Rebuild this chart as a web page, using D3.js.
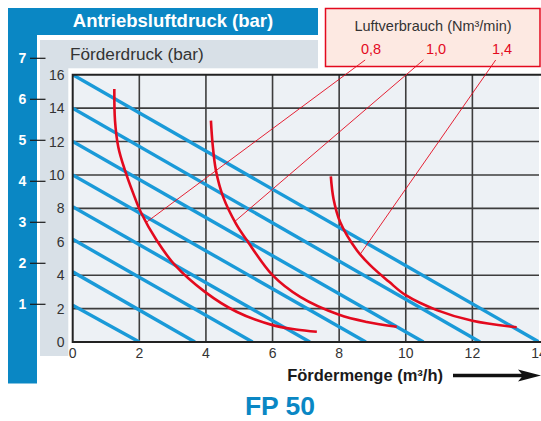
<!DOCTYPE html>
<html><head><meta charset="utf-8">
<script src="https://cdn.jsdelivr.net/npm/d3@7"></script>
<style>html,body{margin:0;padding:0;background:#fff;} svg{display:block;font-family:"Liberation Sans",Arial,sans-serif;}</style>
</head><body>
<script>
// ---- data ----
const xTicks = [0,2,4,6,8,10,12,14];
const yTicks = [0,2,4,6,8,10,12,14,16];
const airTicks = [1,2,3,4,5,6,7];
// blue pressure lines: [y at x=0, x at y=0]
const blueStarts = [2.2, 4.2, 6.15, 8.1, 10.0, 12.0, 14.0, 16.0];
const blueEnds   = [2.0, 3.67, 5.4, 7.12, 8.8, 10.53, 12.23, 14.0];
// air consumption curves
const curveLabels = ["0,8","1,0","1,4"];
const curve08 = [[1.25,15.15],[1.27,13.25],[1.37,11.66],[1.57,10.27],[1.82,8.88],[2.05,7.75],[2.52,6.09],[3.07,4.6],[3.97,3.0],[4.92,1.81],[6.0,1.01],[6.7,0.75],[7.33,0.61]];
const curve10 = [[4.15,13.25],[4.2,11.86],[4.3,10.27],[4.52,8.67],[4.9,7.09],[5.23,6.09],[6.0,4.0],[6.83,2.7],[8.0,1.63],[8.83,1.2],[9.73,0.91]];
const curve14 = [[7.75,9.91],[7.83,8.58],[8.03,7.18],[8.53,5.49],[8.93,4.6],[9.5,3.6],[10.0,2.8],[10.93,1.91],[12.0,1.27],[13.33,0.88]];
const curves = [curve08, curve10, curve14];
// leader lines: start (data coords above plot) -> end on curve
const leaderStarts = [[8.78,16.88],[10.53,16.88],[12.7,16.88]];
const leaderEnds = [[2.22,7.18],[4.87,7.22],[8.63,5.25]];

// ---- drawing ----
const W = 541, H = 421;
const svg = d3.select("body").append("svg").attr("width", W).attr("height", H);
const BLUE = "#0a87c4", LBLUE = "#1a9ad8", RED = "#e30a1e", GRAY = "#d8e0e7", DARK = "#333";

const x = d3.scaleLinear().domain([0,14]).range([72.7, 539]);
const y = d3.scaleLinear().domain([0,16]).range([342, 74.7]);
const yA = d3.scaleLinear().domain([0,7]).range([345.3, 58.3]);

// blue band + header
svg.append("rect").attr("x",8).attr("y",8).attr("width",29).attr("height",375.5).attr("fill",BLUE);
svg.append("rect").attr("x",8).attr("y",8).attr("width",310).attr("height",27).attr("fill",BLUE);
svg.append("text").attr("x",173).attr("y",26.5).attr("text-anchor","middle")
  .attr("fill","#fff").attr("font-weight","bold").attr("font-size",18.5).text("Antriebsluftdruck (bar)");

// gray panels
svg.append("rect").attr("x",40).attr("y",40).attr("width",278).attr("height",28.3).attr("fill",GRAY);
svg.append("rect").attr("x",40).attr("y",40).attr("width",28.3).attr("height",316).attr("fill",GRAY);
svg.append("text").attr("x",70).attr("y",60).attr("fill",DARK).attr("font-size",17.2).text("Förderdruck (bar)");

// legend box
svg.append("rect").attr("x",325.5).attr("y",8.5).attr("width",214.5).attr("height",58)
  .attr("fill","#fde9e2").attr("stroke",RED).attr("stroke-width",1.5);
svg.append("text").attr("x",433).attr("y",31).attr("text-anchor","middle").attr("fill",DARK)
  .attr("font-size",14.5).text("Luftverbrauch (Nm³/min)");
const labelX = [371, 436, 502];
curveLabels.forEach((l,i)=>{
  svg.append("text").attr("x",labelX[i]).attr("y",53.5).attr("text-anchor","middle")
    .attr("fill",RED).attr("font-size",14.5).text(l);
});

// plot background
svg.append("rect").attr("x",x(0)).attr("y",y(16)).attr("width",x(14)-x(0)).attr("height",y(0)-y(16)).attr("fill","#edf1f5");

// grid
const g = svg.append("g");
g.selectAll("line.v").data(xTicks.filter(d=>d>0&&d<14)).join("line")
  .attr("x1",d=>x(d)).attr("x2",d=>x(d)).attr("y1",y(16)).attr("y2",y(0))
  .attr("stroke","#3d3d3d").attr("stroke-width",1.6);
g.selectAll("line.h").data(yTicks.filter(d=>d>0&&d<16)).join("line")
  .attr("x1",x(0)).attr("x2",x(14)).attr("y1",d=>y(d)).attr("y2",d=>y(d))
  .attr("stroke","#3d3d3d").attr("stroke-width",1.6);

// clip
svg.append("clipPath").attr("id","clip").append("rect")
  .attr("x",x(0)).attr("y",y(16)).attr("width",x(14)-x(0)).attr("height",y(0)-y(16));

// blue lines
svg.append("g").attr("clip-path","url(#clip)").selectAll("line").data(blueStarts).join("line")
  .attr("x1",x(0)).attr("y1",d=>y(d)).attr("x2",(d,i)=>x(blueEnds[i])).attr("y2",y(0))
  .attr("stroke",LBLUE).attr("stroke-width",3.4);

// frame
svg.append("path").attr("d",`M${x(14)+2},${y(16)}H${x(0)}V${y(0)}H${x(14)+2}`)
  .attr("fill","none").attr("stroke","#222").attr("stroke-width",2);

// red curves
const line = d3.line().x(d=>x(d[0])).y(d=>y(d[1])).curve(d3.curveCatmullRom.alpha(0.5));
svg.append("g").selectAll("path").data(curves).join("path")
  .attr("d",line).attr("fill","none").attr("stroke",RED).attr("stroke-width",2.6);

// leader lines
svg.append("g").selectAll("line").data(leaderStarts).join("line")
  .attr("x1",d=>x(d[0])).attr("y1",d=>y(d[1]))
  .attr("x2",(d,i)=>x(leaderEnds[i][0])).attr("y2",(d,i)=>y(leaderEnds[i][1]))
  .attr("stroke",RED).attr("stroke-width",0.9);

// y axis labels (Förderdruck)
svg.append("g").selectAll("text").data(yTicks).join("text")
  .attr("x",64.5).attr("y",d=>y(d)+5).attr("text-anchor","end").attr("fill",DARK)
  .attr("font-size",14).text(d=>d);

// x axis labels
svg.append("g").selectAll("text").data(xTicks).join("text")
  .attr("x",d=>x(d)).attr("y",357.5).attr("text-anchor","middle").attr("fill",DARK)
  .attr("font-size",14).text(d=>d);

// air pressure axis
const ga = svg.append("g");
ga.selectAll("line").data(airTicks).join("line")
  .attr("x1",30).attr("x2",45.5).attr("y1",d=>yA(d)).attr("y2",d=>yA(d))
  .attr("stroke","#1a1a1a").attr("stroke-width",1.2);
ga.selectAll("text").data(airTicks).join("text")
  .attr("x",22.5).attr("y",d=>yA(d)+5).attr("text-anchor","middle").attr("fill","#fff")
  .attr("font-weight","bold").attr("font-size",14).text(d=>d);

// x title + arrow
svg.append("text").attr("x",443).attr("y",380.5).attr("text-anchor","end").attr("fill","#1a1a1a")
  .attr("font-weight","bold").attr("font-size",16.5).text("Fördermenge (m³/h)");
svg.append("line").attr("x1",453).attr("x2",524).attr("y1",375.5).attr("y2",375.5)
  .attr("stroke","#111").attr("stroke-width",3.5);
svg.append("path").attr("d","M541,375.5 L518,369.5 L523,375.5 L518,381.5 Z").attr("fill","#111");

// title
svg.append("text").attr("x",280).attr("y",415).attr("text-anchor","middle").attr("fill",BLUE)
  .attr("font-weight","bold").attr("font-size",26.5).text("FP 50");
</script>
</body></html>
